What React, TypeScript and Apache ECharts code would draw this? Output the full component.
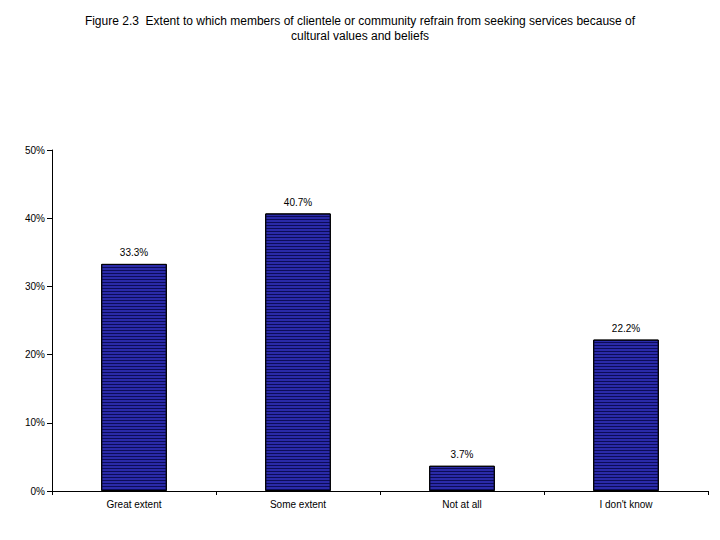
import React, { useEffect, useRef } from "react";
import * as echarts from "echarts";

const categories = ["Great extent", "Some extent", "Not at all", "I don't know"];
const values = [33.3, 40.7, 3.7, 22.2];
const yTicks = [0, 10, 20, 30, 40, 50];
const titleText =
  "Figure 2.3  Extent to which members of clientele or community refrain from seeking services because of\ncultural values and beliefs";

export default function App() {
  const ref = useRef<HTMLDivElement>(null);
  useEffect(() => {
    if (!ref.current) return;
    const chart = echarts.init(ref.current, null, { renderer: "svg" });
    chart.setOption({
      animation: false,
      backgroundColor: "#ffffff",
      textStyle: { fontFamily: "Liberation Sans, Arial, sans-serif" },
      title: {
        text: titleText,
        left: "center",
        top: 8,
        textStyle: {
          fontSize: 12,
          fontWeight: "normal",
          color: "#000",
          lineHeight: 15,
          fontFamily: "Liberation Sans, Arial, sans-serif",
        },
      },
      grid: { left: 52, right: 12, top: 150, bottom: 49, containLabel: false },
      xAxis: {
        type: "category",
        data: categories,
        axisLine: { lineStyle: { color: "#000", width: 1 } },
        axisTick: { show: true, length: 4, lineStyle: { color: "#000" } },
        axisLabel: { color: "#000", fontSize: 10, margin: 8 },
      },
      yAxis: {
        type: "value",
        min: yTicks[0],
        max: yTicks[yTicks.length - 1],
        interval: 10,
        axisLine: { show: true, lineStyle: { color: "#000", width: 1 } },
        axisTick: { show: true, length: 5, lineStyle: { color: "#000" } },
        splitLine: { show: false },
        axisLabel: { color: "#000", fontSize: 10, margin: 7, formatter: "{value}%" },
      },
      series: [
        {
          type: "bar",
          data: values,
          barCategoryGap: "60%",
          itemStyle: {
            color: "#2a2aa8",
            borderColor: "#000",
            borderWidth: 1,
            decal: {
              symbol: "rect",
              symbolSize: 1,
              color: "#0c0c58",
              dashArrayX: [[1, 0]],
              dashArrayY: [1, 2],
              rotation: 0,
            },
          },
          label: {
            show: true,
            position: "top",
            distance: 6,
            color: "#000",
            fontSize: 10,
            formatter: (p: any) => p.value.toFixed(1) + "%",
          },
        },
      ],
    });
    return () => chart.dispose();
  }, []);
  return (
    <div
      ref={ref}
      style={{ position: "fixed", left: 0, top: 0, width: 720, height: 540 }}
    />
  );
}
